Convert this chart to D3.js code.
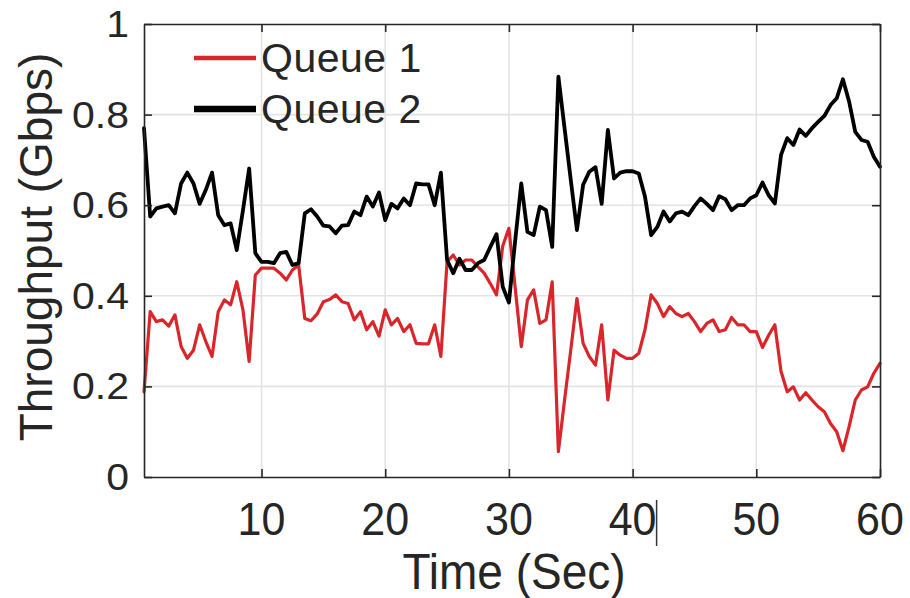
<!DOCTYPE html>
<html>
<head>
<meta charset="utf-8">
<script src="https://cdn.jsdelivr.net/npm/d3@7"></script>
<style>
  html, body { margin: 0; padding: 0; background: #ffffff; }
  svg { display: block; }
  text { font-family: "Liberation Sans", Arial, Helvetica, sans-serif; fill: #262626; }
</style>
</head>
<body>
<svg id="chart" width="910" height="598"></svg>
<script>
// ---------------- data ----------------
const timeSec = [
  0.5, 1, 1.5, 2, 2.5, 3, 3.5, 4, 4.5, 5, 5.5, 6, 6.5, 7, 7.5, 8, 8.5, 9, 9.5, 10,
  10.5, 11, 11.5, 12, 12.5, 13, 13.5, 14, 14.5, 15, 15.5, 16, 16.5, 17, 17.5, 18, 18.5, 19, 19.5, 20,
  20.5, 21, 21.5, 22, 22.5, 23, 23.5, 24, 24.5, 25, 25.5, 26, 26.5, 27, 27.5, 28, 28.5, 29, 29.5, 30,
  30.5, 31, 31.5, 32, 32.5, 33, 33.5, 34, 34.5, 35, 35.5, 36, 36.5, 37, 37.5, 38, 38.5, 39, 39.5, 40,
  40.5, 41, 41.5, 42, 42.5, 43, 43.5, 44, 44.5, 45, 45.5, 46, 46.5, 47, 47.5, 48, 48.5, 49, 49.5, 50,
  50.5, 51, 51.5, 52, 52.5, 53, 53.5, 54, 54.5, 55, 55.5, 56, 56.5, 57, 57.5, 58, 58.5, 59, 59.5, 60
];

const queue1 = [
  0.188, 0.365, 0.343, 0.347, 0.333, 0.358, 0.288, 0.262, 0.280, 0.336, 0.299, 0.266, 0.365, 0.391, 0.380, 0.431, 0.369, 0.255, 0.446, 0.461,
  0.461, 0.461, 0.450, 0.435, 0.457, 0.468, 0.350, 0.345, 0.360, 0.387, 0.392, 0.402, 0.387, 0.383, 0.347, 0.365, 0.325, 0.343, 0.311, 0.369,
  0.336, 0.350, 0.321, 0.336, 0.295, 0.294, 0.294, 0.336, 0.266, 0.475, 0.490, 0.468, 0.479, 0.479, 0.464, 0.450, 0.427, 0.402, 0.510, 0.549,
  0.420, 0.288, 0.391, 0.413, 0.339, 0.347, 0.431, 0.056, 0.170, 0.280, 0.394, 0.295, 0.266, 0.247, 0.336, 0.170, 0.280, 0.269, 0.262, 0.262,
  0.273, 0.325, 0.402, 0.383, 0.354, 0.376, 0.361, 0.354, 0.361, 0.343, 0.321, 0.339, 0.347, 0.321, 0.325, 0.352, 0.336, 0.336, 0.321, 0.321,
  0.286, 0.313, 0.336, 0.233, 0.188, 0.199, 0.170, 0.186, 0.170, 0.155, 0.144, 0.118, 0.100, 0.058, 0.111, 0.170, 0.192, 0.199, 0.229, 0.251
];

const queue2 = [
  0.770, 0.575, 0.593, 0.597, 0.600, 0.582, 0.648, 0.672, 0.648, 0.603, 0.634, 0.672, 0.578, 0.556, 0.560, 0.501, 0.589, 0.681, 0.494, 0.475,
  0.475, 0.472, 0.494, 0.497, 0.468, 0.472, 0.582, 0.591, 0.575, 0.555, 0.553, 0.538, 0.555, 0.556, 0.586, 0.578, 0.619, 0.597, 0.628, 0.567,
  0.603, 0.593, 0.615, 0.600, 0.648, 0.646, 0.646, 0.600, 0.672, 0.479, 0.450, 0.482, 0.457, 0.457, 0.472, 0.479, 0.508, 0.536, 0.420, 0.385,
  0.520, 0.648, 0.541, 0.534, 0.597, 0.589, 0.508, 0.884, 0.770, 0.656, 0.545, 0.645, 0.674, 0.684, 0.603, 0.766, 0.659, 0.672, 0.675, 0.675,
  0.670, 0.619, 0.534, 0.552, 0.586, 0.564, 0.582, 0.586, 0.578, 0.598, 0.615, 0.603, 0.589, 0.620, 0.613, 0.589, 0.600, 0.600, 0.615, 0.622,
  0.650, 0.622, 0.604, 0.711, 0.748, 0.733, 0.767, 0.753, 0.770, 0.784, 0.797, 0.821, 0.836, 0.878, 0.829, 0.762, 0.744, 0.740, 0.707, 0.685
];

const seriesNames = ["Queue 1", "Queue 2"];
const xTicks = [10, 20, 30, 40, 50, 60];
const yTicks = [0, 0.2, 0.4, 0.6, 0.8, 1];
const yTickLabels = ["0", "0.2", "0.4", "0.6", "0.8", "1"];
const xTitle = "Time (Sec)";
const yTitle = "Throughput (Gbps)";

// ---------------- layout ----------------
const colors = ["#d8262b", "#000000"];
const widths = [3.2, 3.8];
const legendWidths = [4.5, 6.5];
const axisColor = "#262626";
const gridColor = "#e3e3e3";

const L = 144, R = 880, T = 24, B = 477;

const svg = d3.select("#chart");
const x = d3.scaleLinear().domain([0.5, 60]).range([L, R]);
const y = d3.scaleLinear().domain([0, 1]).range([B, T]);

// grid
svg.append("g").selectAll("line.gx")
  .data(xTicks.filter(d => d < 60))
  .join("line")
  .attr("x1", d => x(d)).attr("x2", d => x(d))
  .attr("y1", T).attr("y2", B)
  .attr("stroke", gridColor).attr("stroke-width", 1.6);
svg.append("g").selectAll("line.gy")
  .data(yTicks.filter(d => d > 0 && d < 1))
  .join("line")
  .attr("x1", L).attr("x2", R)
  .attr("y1", d => y(d)).attr("y2", d => y(d))
  .attr("stroke", gridColor).attr("stroke-width", 1.6);

// lines
const line = d3.line().x((d, i) => x(timeSec[i])).y(d => y(d)).curve(d3.curveLinear);
[queue1, queue2].forEach((vals, k) => {
  svg.append("path")
    .datum(vals)
    .attr("d", line)
    .attr("fill", "none")
    .attr("stroke", colors[k])
    .attr("stroke-width", widths[k])
    .attr("stroke-linejoin", "round")
    .attr("stroke-linecap", "round");
});

// axes with inward ticks on all four sides
function styleAxis(g) {
  g.selectAll("path.domain").attr("stroke", axisColor).attr("stroke-width", 1.6);
  g.selectAll(".tick line").attr("stroke", axisColor).attr("stroke-width", 1.6);
  g.selectAll(".tick text").remove();
}
svg.append("g").attr("transform", `translate(0,${B})`)
  .call(d3.axisBottom(x).tickValues(xTicks).tickSize(-8).tickSizeOuter(0)).call(styleAxis);
svg.append("g").attr("transform", `translate(0,${T})`)
  .call(d3.axisTop(x).tickValues(xTicks).tickSize(-8).tickSizeOuter(0)).call(styleAxis);
svg.append("g").attr("transform", `translate(${L},0)`)
  .call(d3.axisLeft(y).tickValues(yTicks).tickSize(-8).tickSizeOuter(0)).call(styleAxis);
svg.append("g").attr("transform", `translate(${R},0)`)
  .call(d3.axisRight(y).tickValues(yTicks).tickSize(-8).tickSizeOuter(0)).call(styleAxis);

// tick labels
const xBase = 535;
svg.append("g").selectAll("text")
  .data(xTicks)
  .join("text")
  .attr("text-anchor", "middle")
  .attr("font-size", 43)
  .attr("transform", d => `translate(${x(d)},${xBase}) scale(1,1.08)`)
  .text(d => d);

svg.append("g").selectAll("text")
  .data(yTicks)
  .join("text")
  .attr("text-anchor", "end")
  .attr("font-size", 41)
  .attr("transform", d => `translate(129,${y(d) + 13}) scale(1,0.9)`)
  .text((d, i) => yTickLabels[i]);

// axis titles
svg.append("text")
  .attr("text-anchor", "middle")
  .attr("font-size", 46)
  .attr("transform", `translate(514,589) scale(1,1.08)`)
  .text(xTitle);

svg.append("text")
  .attr("text-anchor", "middle")
  .attr("font-size", 46)
  .attr("transform", `translate(52,247) rotate(-90)`)
  .text(yTitle);

// small vertical stroke after the "40" label (present in the reference)
svg.append("line")
  .attr("x1", x(40) + 24).attr("x2", x(40) + 24)
  .attr("y1", 500).attr("y2", 546)
  .attr("stroke", "#333").attr("stroke-width", 1.5);

// legend
const legY = [58, 109];
const leg = svg.append("g");
seriesNames.forEach((name, k) => {
  leg.append("line")
    .attr("x1", 194).attr("x2", 256)
    .attr("y1", legY[k]).attr("y2", legY[k])
    .attr("stroke", colors[k]).attr("stroke-width", legendWidths[k]);
  leg.append("text")
    .attr("x", 261).attr("y", legY[k] + 14)
    .attr("font-size", 41)
    .attr("letter-spacing", 0.5)
    .text(name);
});
</script>
</body>
</html>
